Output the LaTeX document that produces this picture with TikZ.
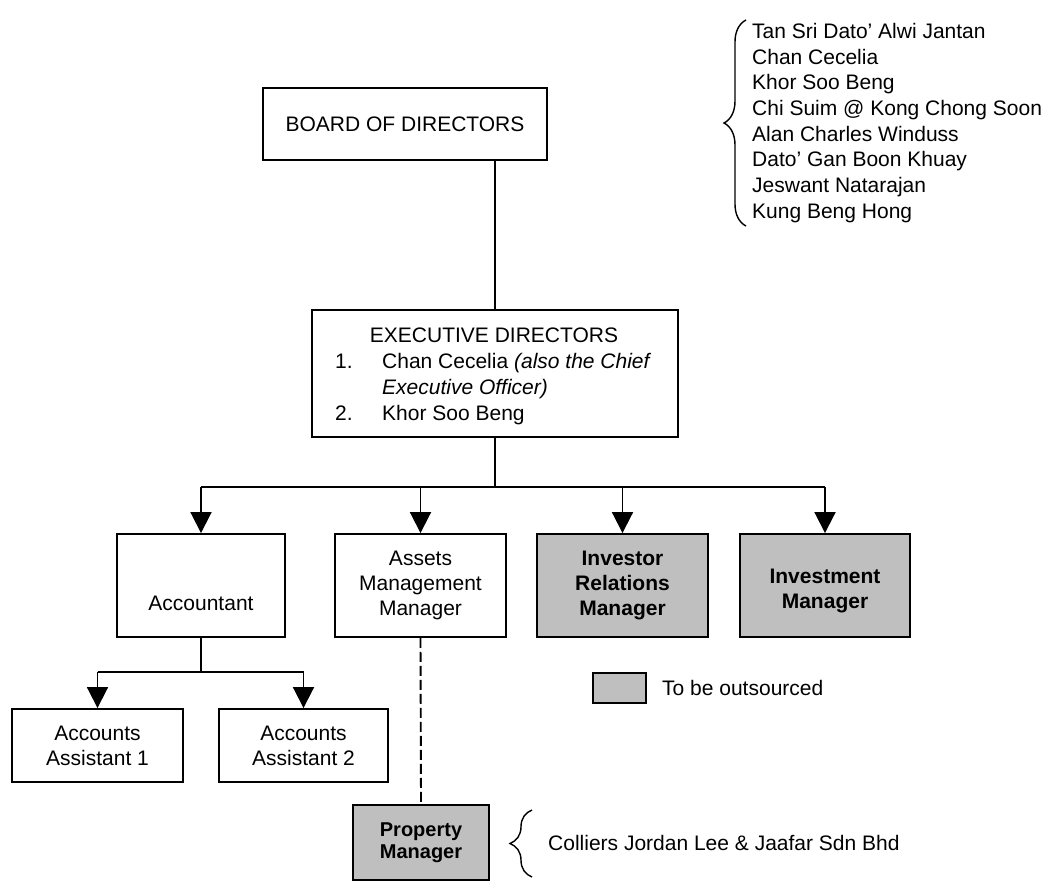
\documentclass[tikz,border=0pt]{standalone}
\usepackage{fontspec}
\setmainfont{Liberation Sans}
\usetikzlibrary{arrows.meta,decorations.pathreplacing}
\begin{document}
\begin{tikzpicture}[x=1pt,y=-1pt,
  box/.style={draw, line width=1.9pt, inner sep=0pt, align=center, font=\fontsize{21}{25}\selectfont},
  shaded/.style={box, fill=black!25, font=\fontsize{21}{25}\selectfont\bfseries},
  conn/.style={line width=1.9pt},
  arr/.style={conn, -{Triangle[width=21pt,length=21pt]}},
  txt/.style={font=\fontsize{21}{25}\selectfont, inner sep=0pt},
  bracestyle/.style={line width=1.4pt, decorate}]
\useasboundingbox (0,0) rectangle (1050,881);

% boxes
\node[box, minimum width=284pt, minimum height=72pt] (board) at (405,124) {BOARD OF DIRECTORS};
\node[box, minimum width=366pt, minimum height=127pt] (exec) at (495,373.5) {};
\node[txt, anchor=base] (exectitle) at (494,342) {EXECUTIVE DIRECTORS};
\node[txt, anchor=base west] (execn1) at (335,368) {1.};
\node[txt, anchor=base west] (execl1) at (382,368) {Chan Cecelia \textit{(also the Chief}};
\node[txt, anchor=base west] (execl2) at (382,394) {\textit{Executive Officer)}};
\node[txt, anchor=base west] (execn2) at (335,420) {2.};
\node[txt, anchor=base west] (execl3) at (382,420) {Khor Soo Beng};

\node[box, minimum width=168pt, minimum height=103pt] (acct) at (201,585.5) {~\\~\\Accountant};
\node[box, minimum width=171pt, minimum height=103pt] (assets) at (420.5,585.5) {Assets\\Management\\Manager};
\node[shaded, minimum width=171pt, minimum height=103pt] (investor) at (622.5,585.5) {Investor\\Relations\\Manager};
\node[shaded, minimum width=170pt, minimum height=103pt] (investment) at (825,585.5) {~\\Investment\\Manager};

\node[box, minimum width=171pt, minimum height=73pt] (aa1) at (97.5,745.5) {Accounts\\Assistant 1};
\node[box, minimum width=169pt, minimum height=73pt] (aa2) at (303.5,745.5) {Accounts\\Assistant 2};

\node[shaded, minimum width=136pt, minimum height=75pt, font=\fontsize{20}{22}\selectfont\bfseries] (prop) at (421,842.5) {Property\\Manager};

% legend
\node[shaded, minimum width=53pt, minimum height=30pt] (legend) at (619.5,688) {};
\node[txt, anchor=west] (legendtxt) at (662,688) {To be outsourced};

% board members list
\node[txt, anchor=west, align=left, font=\fontsize{21}{25.7}\selectfont] (members) at (752,123)
  {Tan Sri Dato' Alwi Jantan\\Chan Cecelia\\Khor Soo Beng\\Chi Suim @ Kong Chong Soon\\Alan Charles Winduss\\Dato' Gan Boon Khuay\\Jeswant Natarajan\\Kung Beng Hong};
\coordinate (mbtop) at (746,20);
\coordinate (mbbot) at (746,226);
\draw[bracestyle, decoration={brace, amplitude=22pt}] (mbbot) -- (mbtop);

% property manager provider
\node[txt, anchor=west] (colliers) at (548,843) {Colliers Jordan Lee \& Jaafar Sdn Bhd};
\coordinate (cbtop) at (532,810);
\coordinate (cbbot) at (532,877);
\draw[bracestyle, decoration={brace, amplitude=22pt}] (cbbot) -- (cbtop);

% connectors
\draw[conn] (exec.north |- board.south) -- (exec.north);
\coordinate (bus) at (495,487);
\draw[conn] (exec.south) -- (bus);
\draw[conn] (acct.north |- bus) -- (investment.north |- bus);
\draw[arr] (acct.north |- bus) -- (acct.north);
\draw[arr] (assets.north |- bus) -- (assets.north);
\draw[arr] (investor.north |- bus) -- (investor.north);
\draw[arr] (investment.north |- bus) -- (investment.north);

\coordinate (abus) at (201,672);
\draw[conn] (acct.south) -- (abus);
\draw[conn] (aa1.north |- abus) -- (aa2.north |- abus);
\draw[arr] (aa1.north |- abus) -- (aa1.north);
\draw[arr] (aa2.north |- abus) -- (aa2.north);

\draw[conn, dash pattern=on 10pt off 4pt] (assets.south) -- (prop.north);
\end{tikzpicture}
\end{document}
